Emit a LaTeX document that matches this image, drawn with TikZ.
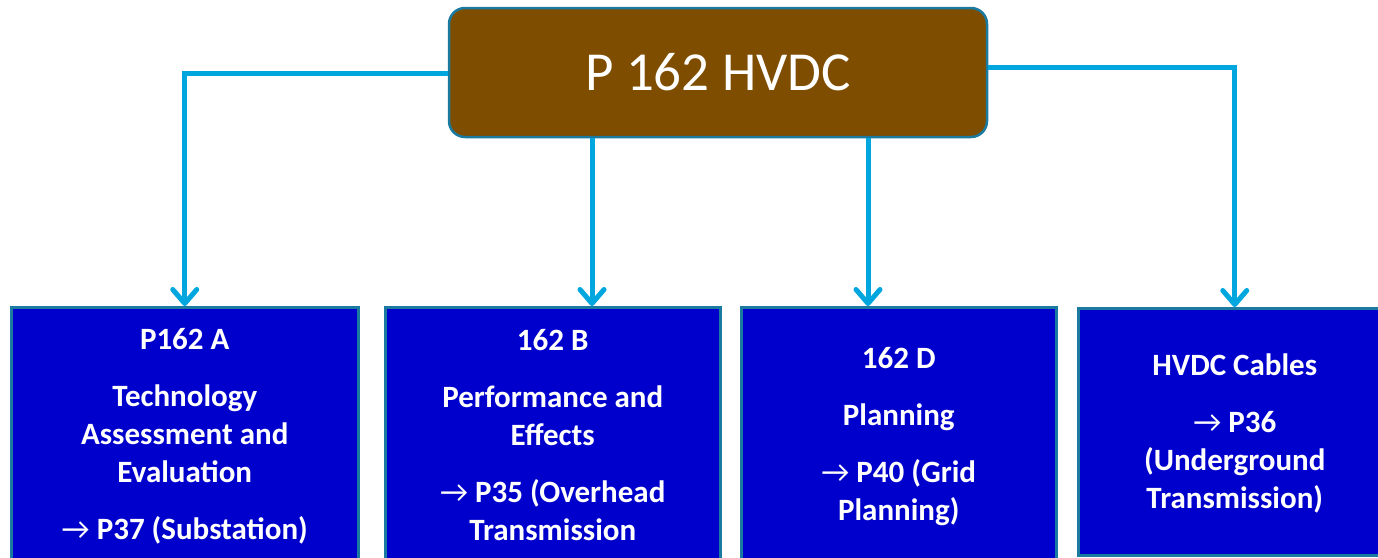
\documentclass[tikz,border=0pt]{standalone}
\usepackage{fontspec}
\setmainfont{Carlito}
\usetikzlibrary{arrows.meta}
\definecolor{brownfill}{RGB}{127,77,0}
\definecolor{bluefill}{RGB}{0,0,204}
\definecolor{edgeteal}{RGB}{26,122,160}
\definecolor{linkcyan}{RGB}{0,166,222}
\tikzset{
  topbox/.style={draw=edgeteal, line width=2.5pt, fill=brownfill, rounded corners=16pt,
    text=white, font=\fontsize{55}{60}\selectfont, inner sep=0pt},
  bluebox/.style={draw=edgeteal, line width=2.5pt, fill=bluefill, anchor=north west, inner sep=0pt},
  boxtext/.style={anchor=base, inner sep=0pt, text=white},
  link/.style={draw=linkcyan, line width=5pt},
  linkarrow/.style={link, -{Straight Barb[length=14pt,width=24pt,line cap=round,line join=round]}}
}
\newcommand{\boxlines}[1]{\parbox[t]{330pt}{\centering\fontsize{31}{38}\selectfont\bfseries #1}}
\begin{document}
\begin{tikzpicture}[x=1pt,y=-1pt]
\useasboundingbox (0,0) rectangle (1378,557);
\clip (0,0) rectangle (1378,557);
% top node
\node[topbox, minimum width=538pt, minimum height=129pt] (top) at (718,72.5) {P 162 HVDC};
% bottom boxes
\node[bluebox, minimum width=347pt, minimum height=320pt] (a) at (10,306) {};
\node[bluebox, minimum width=335pt, minimum height=320pt] (b) at (384,306) {};
\node[bluebox, minimum width=315pt, minimum height=320pt] (c) at (740,306) {};
\node[bluebox, minimum width=313pt, minimum height=247pt] (d) at (1077,307) {};
% texts
\node[boxtext] (ta) at (a.north |- 0,349) {\boxlines{P162 A\\[19pt]Technology\\Assessment and\\Evaluation\\[19pt]{\mdseries →} P37 (Substation)}};
\node[boxtext] (tb) at (b.north |- 0,350) {\boxlines{162 B\\[19pt]Performance and\\Effects\\[19pt]{\mdseries →} P35 (Overhead\\Transmission}};
\node[boxtext] (tc) at (c.north |- 0,368) {\boxlines{162 D\\[19pt]Planning\\[19pt]{\mdseries →} P40 (Grid\\Planning)}};
\node[boxtext] (td) at (d.north |- 0,375) {\boxlines{HVDC Cables\\[19pt]{\mdseries →} P36\\(Underground\\Transmission)}};
% connectors
\draw[linkarrow] ([yshift=-0.5pt]top.west) -| (a.north);
\draw[linkarrow] ([yshift=5pt]top.east) -| (d.north);
\draw[linkarrow] ([xshift=-126pt]top.south) -- ([xshift=-126pt]top.south |- b.north);
\draw[linkarrow] ([xshift=150pt]top.south) -- ([xshift=150pt]top.south |- c.north);
\end{tikzpicture}
\end{document}
